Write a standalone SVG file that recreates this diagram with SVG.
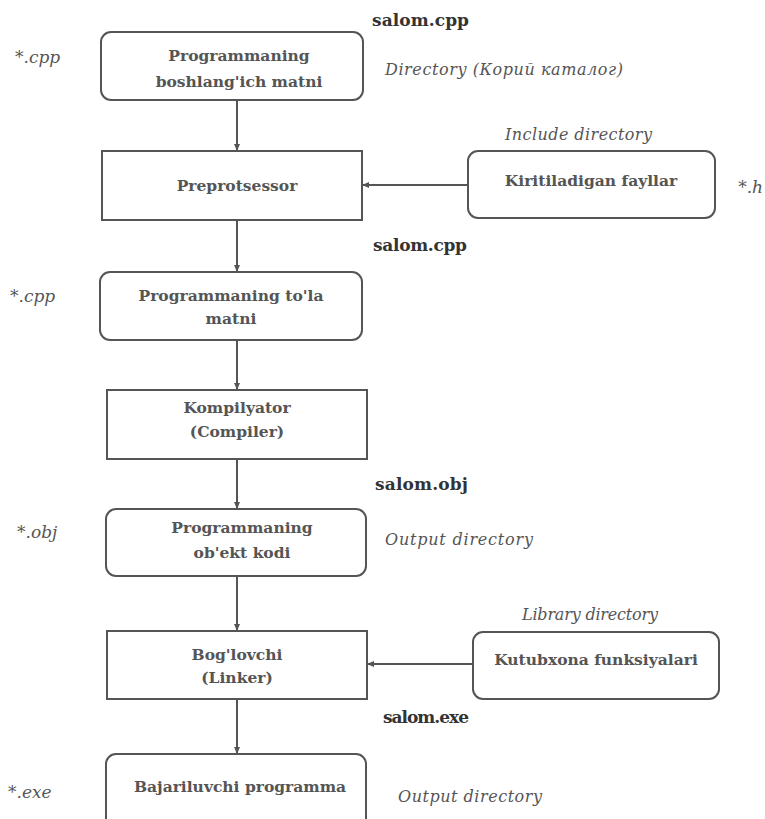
<svg xmlns="http://www.w3.org/2000/svg" width="765" height="819" viewBox="0 0 765 819">
<style>
.box{fill:#fff;stroke:#555;stroke-width:2}
.t{font-family:"DejaVu Serif","Liberation Serif",serif;font-weight:bold;font-size:15.5px;fill:#555;text-anchor:middle}
.f{font-family:"DejaVu Serif","Liberation Serif",serif;font-weight:bold;font-size:17px;fill:#333}
.i{font-family:"DejaVu Serif","Liberation Serif",serif;font-style:italic;font-size:16px;fill:#555}
.s{font-family:"DejaVu Serif","Liberation Serif",serif;font-style:italic;font-size:17px;fill:#555}
.c{stroke:#555;stroke-width:2;fill:none}
</style>
<defs>
<marker id="ah" markerWidth="8" markerHeight="8" refX="7" refY="4" orient="auto" markerUnits="userSpaceOnUse">
<path d="M0,1 L7,4 L0,7 z" fill="#555"/>
</marker>
</defs>
<rect width="765" height="819" fill="#fff"/>
<g id="connectors">
<line class="c" x1="237" y1="100" x2="237" y2="151" marker-end="url(#ah)"/>
<line class="c" x1="468" y1="185" x2="362" y2="185" marker-end="url(#ah)"/>
<line class="c" x1="237" y1="220" x2="237" y2="272" marker-end="url(#ah)"/>
<line class="c" x1="237" y1="340" x2="237" y2="390" marker-end="url(#ah)"/>
<line class="c" x1="237" y1="459" x2="237" y2="509" marker-end="url(#ah)"/>
<line class="c" x1="237" y1="576" x2="237" y2="631" marker-end="url(#ah)"/>
<line class="c" x1="473" y1="664" x2="367" y2="664" marker-end="url(#ah)"/>
<line class="c" x1="237" y1="699" x2="237" y2="754" marker-end="url(#ah)"/>
</g>
<g id="source">
<rect class="box" x="101" y="32" width="262" height="68" rx="10"/>
<text class="t" x="239" y="61">Programmaning</text>
<text class="t" x="239" y="87">boshlang'ich matni</text>
</g>
<g id="preprocessor">
<rect class="box" x="102" y="151" width="260" height="69"/>
<text class="t" x="237" y="191">Preprotsessor</text>
</g>
<g id="include">
<rect class="box" x="468" y="151" width="247" height="67" rx="10"/>
<text class="t" x="591" y="186">Kiritiladigan fayllar</text>
</g>
<g id="full">
<rect class="box" x="100" y="272" width="262" height="68" rx="10"/>
<text class="t" x="231" y="301">Programmaning to'la</text>
<text class="t" x="231" y="324">matni</text>
</g>
<g id="compiler">
<rect class="box" x="107" y="390" width="260" height="69"/>
<text class="t" x="237" y="413">Kompilyator</text>
<text class="t" x="237" y="437">(Compiler)</text>
</g>
<g id="object">
<rect class="box" x="106" y="509" width="260" height="67" rx="10"/>
<text class="t" x="242" y="533">Programmaning</text>
<text class="t" x="242" y="558">ob'ekt kodi</text>
</g>
<g id="linker">
<rect class="box" x="107" y="631" width="260" height="68"/>
<text class="t" x="237" y="660">Bog'lovchi</text>
<text class="t" x="237" y="683">(Linker)</text>
</g>
<g id="library">
<rect class="box" x="473" y="632" width="246" height="67" rx="10"/>
<text class="t" x="596" y="665">Kutubxona funksiyalari</text>
</g>
<g id="executable">
<rect class="box" x="106" y="754" width="260" height="80" rx="10"/>
<text class="t" x="240" y="792">Bajariluvchi programma</text>
</g>
<g id="labels">
<text class="f" x="372" y="26" textLength="97">salom.cpp</text>
<text class="s" x="15" y="63">*.cpp</text>
<text class="i" x="385" y="75" textLength="238">Directory (Корий каталог)</text>
<text class="i" x="505" y="140" textLength="147">Include directory</text>
<text class="s" x="763" y="193" text-anchor="end">*.h</text>
<text class="f" x="373" y="251" textLength="94">salom.cpp</text>
<text class="s" x="10" y="302">*.cpp</text>
<text class="f" x="375" y="490" textLength="93">salom.obj</text>
<text class="s" x="17" y="538">*.obj</text>
<text class="i" x="385" y="545" textLength="148">Output directory</text>
<text class="i" x="522" y="620" textLength="136">Library directory</text>
<text class="f" x="383" y="723" textLength="86">salom.exe</text>
<text class="s" x="8" y="798">*.exe</text>
<text class="i" x="398" y="802" textLength="144">Output directory</text>
</g>
</svg>
